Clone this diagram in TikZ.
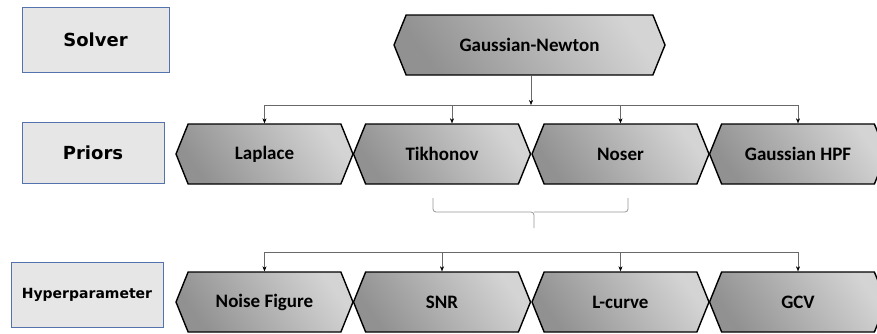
\documentclass[tikz,border=0pt]{standalone}
\usepackage{fontspec}
\usepackage{tikz}
\usetikzlibrary{shapes.symbols, arrows.meta}
\newfontfamily\boxfont{DejaVu Sans}
\newfontfamily\hexfont{Carlito}
\definecolor{boxedge}{RGB}{84,114,174}
\definecolor{boxfill}{RGB}{230,230,230}
\definecolor{hexdark}{RGB}{145,145,145}
\definecolor{hexlight}{RGB}{212,212,212}
\definecolor{wire}{RGB}{105,105,105}
\definecolor{bracegray}{RGB}{150,150,150}
\tikzstyle{labelblock} = [draw=boxedge, fill=boxfill, inner sep=0, font=\boxfont\bfseries\fontsize{18}{20}\selectfont]
\tikzstyle{hexblock} = [signal, signal to=west and east, signal pointer angle=136, draw=black, line width=1.4pt, left color=hexdark, right color=hexlight, shading angle=125, minimum width=177pt, minimum height=60pt, inner sep=0, font=\hexfont\bfseries\fontsize{19}{21}\selectfont]
\tikzstyle{feed} = [draw=wire, -{Stealth[length=5pt, width=4pt, color=black]}]

\begin{document}
\begin{tikzpicture}[x=1pt, y=-1pt]
      \useasboundingbox (0, 0) rectangle (877, 333);
      \node[labelblock, minimum width=147pt, minimum height=65pt] (solver) at (95.5, 39.5) {Solver};
      \node[labelblock, minimum width=142pt, minimum height=61pt] (priors) at (93, 152.5) {Priors};
      \node[labelblock, minimum width=152pt, minimum height=65pt, font=\boxfont\bfseries\fontsize{14}{16}\selectfont] (hyper) at (87, 294.5) {Hyperparameter};

      \node[hexblock, minimum width=271pt] (gn) at (529.5, 45) {Gaussian-Newton};

      \node[hexblock] (laplace) at (264.5, 154) {Laplace};
      \node[hexblock] (tikhonov) at (442, 154) {Tikhonov};
      \node[hexblock] (noser) at (620.5, 154) {Noser};
      \node[hexblock] (hpf) at (798, 154) {Gaussian HPF};

      \node[hexblock] (noisefig) at (264.5, 302) {Noise Figure};
      \node[hexblock] (snr) at (442, 302) {SNR};
      \node[hexblock] (lcurve) at (620.5, 302) {L-curve};
      \node[hexblock] (gcv) at (798, 302) {GCV};

      \coordinate (bus1) at (531, 105);
      \coordinate (bus2) at (534, 252);

      \draw[feed] (gn.south -| bus1) -- (bus1);
      \draw[feed] (bus1) -| (laplace.north);
      \draw[feed] (bus1) -| ([xshift=10pt]tikhonov.north);
      \draw[feed] (bus1) -| (noser.north);
      \draw[feed] (bus1) -| (hpf.north);

      \draw[bracegray, line width=0.8pt, rounded corners=3pt] (433, 198) -- (433, 212) -- (534, 212) -- (534, 228);
      \draw[bracegray, line width=0.8pt, rounded corners=3pt] (628, 198) -- (628, 212) -- (534, 212);

      \draw[feed] (bus2) -| (noisefig.north);
      \draw[feed] (bus2) -| (snr.north);
      \draw[feed] (bus2) -| (lcurve.north);
      \draw[feed] (bus2) -| (gcv.north);
    \end{tikzpicture}
\end{document}
